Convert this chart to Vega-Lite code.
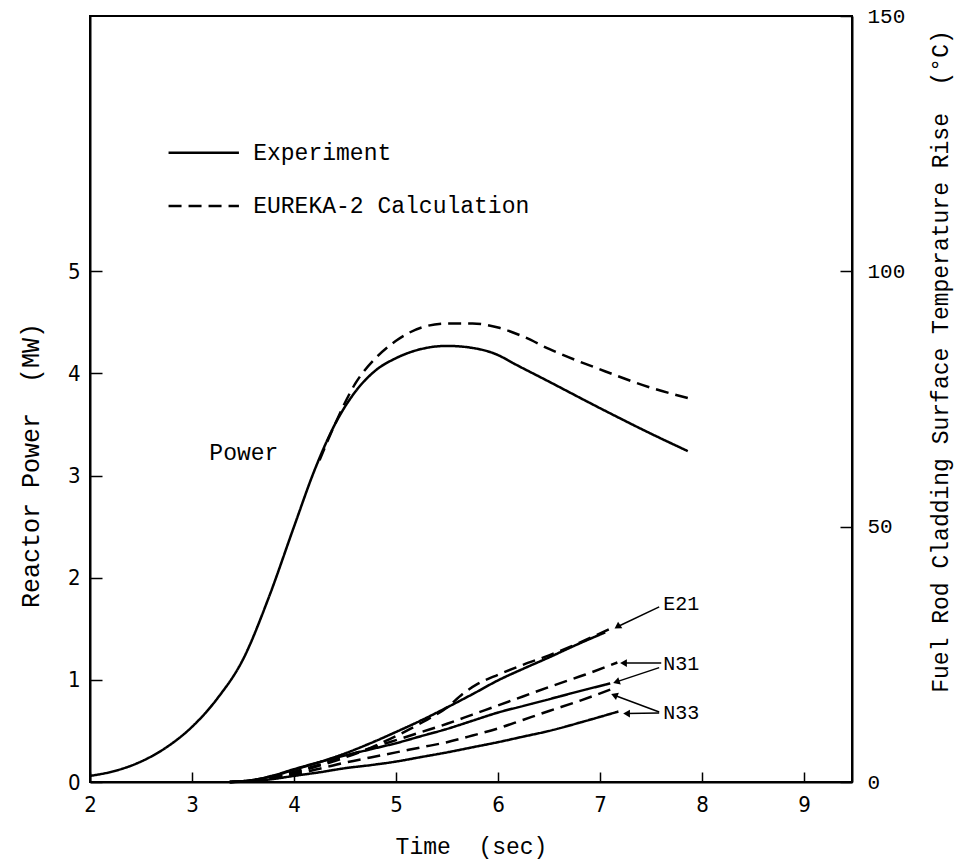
{
  "$schema": "https://vega.github.io/schema/vega-lite/v6.json",
  "width": 762,
  "height": 766,
  "autosize": {"type": "none"},
  "padding": {"left": 90, "top": 16, "right": 120, "bottom": 81},
  "background": "white",
  "config": {
    "view": {"stroke": "black", "strokeWidth": 2},
    "axis": {
      "grid": false, "domainColor": "black", "domainWidth": 2,
      "tickColor": "black", "tickWidth": 1.5, "labelColor": "black",
      "titleColor": "black", "titleFontWeight": "normal",
      "labelFlush": false, "labelOverlap": false, "labelBound": false
    }
  },
  "datasets": {
    "power": [
      {"series": "P-exp", "kind": "Experiment", "time": 2.0, "mw": 0.06},
      {"series": "P-exp", "kind": "Experiment", "time": 2.25, "mw": 0.11},
      {"series": "P-exp", "kind": "Experiment", "time": 2.5, "mw": 0.2},
      {"series": "P-exp", "kind": "Experiment", "time": 2.75, "mw": 0.34},
      {"series": "P-exp", "kind": "Experiment", "time": 3.0, "mw": 0.54},
      {"series": "P-exp", "kind": "Experiment", "time": 3.25, "mw": 0.82},
      {"series": "P-exp", "kind": "Experiment", "time": 3.5, "mw": 1.2},
      {"series": "P-exp", "kind": "Experiment", "time": 3.75, "mw": 1.8},
      {"series": "P-exp", "kind": "Experiment", "time": 4.0, "mw": 2.5},
      {"series": "P-exp", "kind": "Experiment", "time": 4.2, "mw": 3.05},
      {"series": "P-exp", "kind": "Experiment", "time": 4.4, "mw": 3.5},
      {"series": "P-exp", "kind": "Experiment", "time": 4.6, "mw": 3.82},
      {"series": "P-exp", "kind": "Experiment", "time": 4.8, "mw": 4.03},
      {"series": "P-exp", "kind": "Experiment", "time": 5.0, "mw": 4.15},
      {"series": "P-exp", "kind": "Experiment", "time": 5.25, "mw": 4.24},
      {"series": "P-exp", "kind": "Experiment", "time": 5.5, "mw": 4.27},
      {"series": "P-exp", "kind": "Experiment", "time": 5.75, "mw": 4.25},
      {"series": "P-exp", "kind": "Experiment", "time": 6.0, "mw": 4.18},
      {"series": "P-exp", "kind": "Experiment", "time": 6.15, "mw": 4.1},
      {"series": "P-exp", "kind": "Experiment", "time": 6.5, "mw": 3.92},
      {"series": "P-exp", "kind": "Experiment", "time": 7.0, "mw": 3.66},
      {"series": "P-exp", "kind": "Experiment", "time": 7.5, "mw": 3.41},
      {"series": "P-exp", "kind": "Experiment", "time": 7.86, "mw": 3.24},
      {"series": "P-calc", "kind": "Calculation", "time": 4.25, "mw": 3.15},
      {"series": "P-calc", "kind": "Calculation", "time": 4.4, "mw": 3.5},
      {"series": "P-calc", "kind": "Calculation", "time": 4.6, "mw": 3.9},
      {"series": "P-calc", "kind": "Calculation", "time": 4.8, "mw": 4.15},
      {"series": "P-calc", "kind": "Calculation", "time": 5.0, "mw": 4.32},
      {"series": "P-calc", "kind": "Calculation", "time": 5.25, "mw": 4.45},
      {"series": "P-calc", "kind": "Calculation", "time": 5.5, "mw": 4.49},
      {"series": "P-calc", "kind": "Calculation", "time": 5.75, "mw": 4.49},
      {"series": "P-calc", "kind": "Calculation", "time": 6.0, "mw": 4.45},
      {"series": "P-calc", "kind": "Calculation", "time": 6.25, "mw": 4.36},
      {"series": "P-calc", "kind": "Calculation", "time": 6.5, "mw": 4.24},
      {"series": "P-calc", "kind": "Calculation", "time": 7.0, "mw": 4.04},
      {"series": "P-calc", "kind": "Calculation", "time": 7.5, "mw": 3.86},
      {"series": "P-calc", "kind": "Calculation", "time": 7.86, "mw": 3.76},
      {"series": "legend-exp", "kind": "Experiment", "time": 2.77, "mw": 6.16},
      {"series": "legend-exp", "kind": "Experiment", "time": 3.46, "mw": 6.16},
      {"series": "legend-calc", "kind": "Calculation", "time": 2.77, "mw": 5.64},
      {"series": "legend-calc", "kind": "Calculation", "time": 3.46, "mw": 5.64}
    ],
    "ptext": [
      {"time": 3.6, "mw": 6.16, "label": "Experiment"},
      {"time": 3.6, "mw": 5.64, "label": "EUREKA-2 Calculation"},
      {"time": 3.17, "mw": 3.22, "label": "Power"}
    ],
    "temp": [
      {"series": "E21", "kind": "Experiment", "time": 3.37, "temp": 0},
      {"series": "E21", "kind": "Experiment", "time": 3.6, "temp": 0.4},
      {"series": "E21", "kind": "Experiment", "time": 3.8, "temp": 1.2},
      {"series": "E21", "kind": "Experiment", "time": 4.0, "temp": 2.4},
      {"series": "E21", "kind": "Experiment", "time": 4.25, "temp": 3.9},
      {"series": "E21", "kind": "Experiment", "time": 4.5, "temp": 5.6},
      {"series": "E21", "kind": "Experiment", "time": 4.75, "temp": 7.6},
      {"series": "E21", "kind": "Experiment", "time": 5.0, "temp": 9.8},
      {"series": "E21", "kind": "Experiment", "time": 5.25, "temp": 12.1},
      {"series": "E21", "kind": "Experiment", "time": 5.5, "temp": 14.6},
      {"series": "E21", "kind": "Experiment", "time": 5.75, "temp": 17.2},
      {"series": "E21", "kind": "Experiment", "time": 6.0, "temp": 19.9},
      {"series": "E21", "kind": "Experiment", "time": 6.25, "temp": 22.2},
      {"series": "E21", "kind": "Experiment", "time": 6.5, "temp": 24.4},
      {"series": "E21", "kind": "Experiment", "time": 6.75, "temp": 26.7},
      {"series": "E21", "kind": "Experiment", "time": 7.05, "temp": 29.3},
      {"series": "E21c", "kind": "Calculation", "time": 3.37, "temp": 0},
      {"series": "E21c", "kind": "Calculation", "time": 3.6, "temp": 0.3},
      {"series": "E21c", "kind": "Calculation", "time": 3.8, "temp": 0.9},
      {"series": "E21c", "kind": "Calculation", "time": 4.0, "temp": 1.8},
      {"series": "E21c", "kind": "Calculation", "time": 4.25, "temp": 3.2},
      {"series": "E21c", "kind": "Calculation", "time": 4.5, "temp": 4.8},
      {"series": "E21c", "kind": "Calculation", "time": 4.75, "temp": 6.7},
      {"series": "E21c", "kind": "Calculation", "time": 5.0, "temp": 9.0},
      {"series": "E21c", "kind": "Calculation", "time": 5.25, "temp": 11.6},
      {"series": "E21c", "kind": "Calculation", "time": 5.5, "temp": 14.6},
      {"series": "E21c", "kind": "Calculation", "time": 5.65, "temp": 17.2},
      {"series": "E21c", "kind": "Calculation", "time": 5.8, "temp": 19.2},
      {"series": "E21c", "kind": "Calculation", "time": 6.0, "temp": 21.0},
      {"series": "E21c", "kind": "Calculation", "time": 6.25, "temp": 23.0},
      {"series": "E21c", "kind": "Calculation", "time": 6.5, "temp": 24.8},
      {"series": "E21c", "kind": "Calculation", "time": 6.8, "temp": 27.3},
      {"series": "E21c", "kind": "Calculation", "time": 7.12, "temp": 30.2},
      {"series": "N31", "kind": "Experiment", "time": 3.37, "temp": 0},
      {"series": "N31", "kind": "Experiment", "time": 3.6, "temp": 0.4},
      {"series": "N31", "kind": "Experiment", "time": 3.8, "temp": 1.3},
      {"series": "N31", "kind": "Experiment", "time": 4.0, "temp": 2.5},
      {"series": "N31", "kind": "Experiment", "time": 4.25, "temp": 3.9},
      {"series": "N31", "kind": "Experiment", "time": 4.5, "temp": 5.2},
      {"series": "N31", "kind": "Experiment", "time": 4.75, "temp": 6.4},
      {"series": "N31", "kind": "Experiment", "time": 5.0, "temp": 7.6},
      {"series": "N31", "kind": "Experiment", "time": 5.25, "temp": 9.0},
      {"series": "N31", "kind": "Experiment", "time": 5.5, "temp": 10.4},
      {"series": "N31", "kind": "Experiment", "time": 5.75, "temp": 12.0},
      {"series": "N31", "kind": "Experiment", "time": 6.0, "temp": 13.6},
      {"series": "N31", "kind": "Experiment", "time": 6.25, "temp": 14.9},
      {"series": "N31", "kind": "Experiment", "time": 6.5, "temp": 16.2},
      {"series": "N31", "kind": "Experiment", "time": 6.8, "temp": 17.8},
      {"series": "N31", "kind": "Experiment", "time": 7.1, "temp": 19.3},
      {"series": "N31c", "kind": "Calculation", "time": 3.37, "temp": 0},
      {"series": "N31c", "kind": "Calculation", "time": 3.6, "temp": 0.3},
      {"series": "N31c", "kind": "Calculation", "time": 3.8, "temp": 1.0},
      {"series": "N31c", "kind": "Calculation", "time": 4.0, "temp": 2.0},
      {"series": "N31c", "kind": "Calculation", "time": 4.25, "temp": 3.4},
      {"series": "N31c", "kind": "Calculation", "time": 4.5, "temp": 5.0},
      {"series": "N31c", "kind": "Calculation", "time": 4.75, "temp": 6.6},
      {"series": "N31c", "kind": "Calculation", "time": 5.0, "temp": 8.2},
      {"series": "N31c", "kind": "Calculation", "time": 5.25, "temp": 9.8},
      {"series": "N31c", "kind": "Calculation", "time": 5.5, "temp": 11.4},
      {"series": "N31c", "kind": "Calculation", "time": 5.75, "temp": 13.2},
      {"series": "N31c", "kind": "Calculation", "time": 6.0, "temp": 15.0},
      {"series": "N31c", "kind": "Calculation", "time": 6.25, "temp": 16.8},
      {"series": "N31c", "kind": "Calculation", "time": 6.5, "temp": 18.6},
      {"series": "N31c", "kind": "Calculation", "time": 6.85, "temp": 21.0},
      {"series": "N31c", "kind": "Calculation", "time": 7.17, "temp": 23.4},
      {"series": "N33c", "kind": "Calculation", "time": 3.37, "temp": 0},
      {"series": "N33c", "kind": "Calculation", "time": 3.6, "temp": 0.25},
      {"series": "N33c", "kind": "Calculation", "time": 3.8, "temp": 0.8},
      {"series": "N33c", "kind": "Calculation", "time": 4.0, "temp": 1.5},
      {"series": "N33c", "kind": "Calculation", "time": 4.25, "temp": 2.6},
      {"series": "N33c", "kind": "Calculation", "time": 4.5, "temp": 3.8},
      {"series": "N33c", "kind": "Calculation", "time": 4.75, "temp": 4.8},
      {"series": "N33c", "kind": "Calculation", "time": 5.0, "temp": 5.8},
      {"series": "N33c", "kind": "Calculation", "time": 5.25, "temp": 6.8},
      {"series": "N33c", "kind": "Calculation", "time": 5.5, "temp": 7.8},
      {"series": "N33c", "kind": "Calculation", "time": 5.75, "temp": 9.1},
      {"series": "N33c", "kind": "Calculation", "time": 6.0, "temp": 10.5},
      {"series": "N33c", "kind": "Calculation", "time": 6.25, "temp": 12.2},
      {"series": "N33c", "kind": "Calculation", "time": 6.5, "temp": 13.9},
      {"series": "N33c", "kind": "Calculation", "time": 6.8, "temp": 15.9},
      {"series": "N33c", "kind": "Calculation", "time": 7.1, "temp": 18.1},
      {"series": "N33", "kind": "Experiment", "time": 3.37, "temp": 0},
      {"series": "N33", "kind": "Experiment", "time": 3.6, "temp": 0.2},
      {"series": "N33", "kind": "Experiment", "time": 3.8, "temp": 0.6},
      {"series": "N33", "kind": "Experiment", "time": 4.0, "temp": 1.2},
      {"series": "N33", "kind": "Experiment", "time": 4.25, "temp": 1.9},
      {"series": "N33", "kind": "Experiment", "time": 4.5, "temp": 2.7},
      {"series": "N33", "kind": "Experiment", "time": 4.75, "temp": 3.3},
      {"series": "N33", "kind": "Experiment", "time": 5.0, "temp": 4.0},
      {"series": "N33", "kind": "Experiment", "time": 5.25, "temp": 4.9},
      {"series": "N33", "kind": "Experiment", "time": 5.5, "temp": 5.8},
      {"series": "N33", "kind": "Experiment", "time": 5.75, "temp": 6.8},
      {"series": "N33", "kind": "Experiment", "time": 6.0, "temp": 7.8},
      {"series": "N33", "kind": "Experiment", "time": 6.25, "temp": 8.9},
      {"series": "N33", "kind": "Experiment", "time": 6.5, "temp": 10.0},
      {"series": "N33", "kind": "Experiment", "time": 6.85, "temp": 11.9},
      {"series": "N33", "kind": "Experiment", "time": 7.18, "temp": 13.8}
    ],
    "ttext": [
      {"time": 7.62, "temp": 34.8, "label": "E21"},
      {"time": 7.62, "temp": 23.2, "label": "N31"},
      {"time": 7.62, "temp": 13.5, "label": "N33"}
    ],
    "arrows": [
      {"id": "E21", "time": 7.58, "temp": 34.3, "time2": 7.17, "temp2": 30.4},
      {"id": "N31a", "time": 7.6, "temp": 23.3, "time2": 7.23, "temp2": 23.3},
      {"id": "N31b", "time": 7.58, "temp": 22.4, "time2": 7.16, "temp2": 19.6},
      {"id": "N33a", "time": 7.58, "temp": 13.7, "time2": 7.14, "temp2": 17.0},
      {"id": "N33b", "time": 7.58, "temp": 13.5, "time2": 7.26, "temp2": 13.4}
    ],
    "heads": [
      {"id": "E21", "time": 7.17, "temp": 30.4},
      {"id": "N31a", "time": 7.23, "temp": 23.3},
      {"id": "N31b", "time": 7.16, "temp": 19.6},
      {"id": "N33a", "time": 7.14, "temp": 17.0},
      {"id": "N33b", "time": 7.26, "temp": 13.4}
    ]
  },
  "encoding": {
    "x": {
      "field": "time", "type": "quantitative",
      "scale": {"domain": [2, 9.47], "nice": false, "zero": false},
      "axis": {
        "values": [2, 3, 4, 5, 6, 7, 8, 9], "tickSize": -10, "labelPadding": 22,
        "labelFont": "Liberation Sans Narrow, DejaVu Sans Condensed, Liberation Sans", "labelFontSize": 22,
        "title": "Time\u00a0\u00a0(sec)", "titleFont": "Liberation Mono", "titleFontSize": 23,
        "titleY": 64, "titleBaseline": "middle"
      }
    }
  },
  "layer": [
    {
      "encoding": {
        "y": {
          "field": "mw", "type": "quantitative",
          "scale": {"domain": [0, 7.5], "nice": false, "zero": false},
          "axis": {
            "orient": "left", "values": [0, 1, 2, 3, 4, 5], "tickSize": -12, "labelPadding": 22,
            "labelFont": "Liberation Sans Narrow, DejaVu Sans Condensed, Liberation Sans", "labelFontSize": 22,
            "title": "Reactor Power\u00a0\u00a0(MW)", "titleFont": "Liberation Mono", "titleFontSize": 25,
            "titleAngle": 270, "titleX": -60, "titleY": 449, "titleAlign": "center", "titleBaseline": "middle"
          }
        }
      },
      "layer": [
        {
          "data": {"name": "power"},
          "mark": {"type": "line", "color": "black", "strokeWidth": 2.5, "interpolate": "monotone"},
          "encoding": {
            "detail": {"field": "series", "type": "nominal"},
            "strokeDash": {"field": "kind", "type": "nominal", "scale": {"domain": ["Experiment", "Calculation"], "range": [[1, 0], [13, 7]]}, "legend": null}
          }
        },
        {
          "data": {"name": "ptext"},
          "mark": {"type": "text", "align": "left", "baseline": "middle", "font": "Liberation Mono", "fontSize": 23, "color": "black"},
          "encoding": {"text": {"field": "label", "type": "nominal"}}
        }
      ]
    },
    {
      "encoding": {
        "y": {
          "field": "temp", "type": "quantitative",
          "scale": {"domain": [0, 150], "nice": false, "zero": false},
          "axis": {
            "orient": "right", "values": [0, 50, 100, 150], "tickSize": -12, "labelPadding": 27,
            "labelFont": "Liberation Mono", "labelFontSize": 21,
            "title": "Fuel Rod Cladding Surface Temperature Rise\u00a0\u00a0(°C)", "titleFont": "Liberation Mono", "titleFontSize": 23,
            "titleAngle": 270, "titleX": 88, "titleY": 345, "titleAlign": "center", "titleBaseline": "middle"
          }
        }
      },
      "layer": [
        {
          "data": {"name": "temp"},
          "mark": {"type": "line", "color": "black", "strokeWidth": 2.5, "interpolate": "monotone"},
          "encoding": {
            "detail": {"field": "series", "type": "nominal"},
            "strokeDash": {"field": "kind", "type": "nominal", "scale": {"domain": ["Experiment", "Calculation"], "range": [[1, 0], [13, 7]]}, "legend": null}
          }
        },
        {
          "data": {"name": "ttext"},
          "mark": {"type": "text", "align": "left", "baseline": "middle", "font": "Liberation Mono", "fontSize": 20, "color": "black"},
          "encoding": {"text": {"field": "label", "type": "nominal"}}
        },
        {
          "data": {"name": "arrows"},
          "mark": {"type": "rule", "color": "black", "strokeWidth": 1.5},
          "encoding": {"x2": {"field": "time2"}, "y2": {"field": "temp2"}}
        },
        {
          "data": {"name": "heads"},
          "transform": [{"filter": "datum.id == 'N31a' || datum.id == 'N33b'"}],
          "mark": {"type": "point", "shape": "triangle-left", "filled": true, "color": "black", "size": 60, "angle": 0, "opacity": 1},
          "encoding": {}
        },
        {
          "data": {"name": "heads"},
          "transform": [{"filter": "datum.id == 'E21'"}],
          "mark": {"type": "point", "shape": "triangle-left", "filled": true, "color": "black", "size": 60, "angle": -33, "opacity": 1},
          "encoding": {}
        },
        {
          "data": {"name": "heads"},
          "transform": [{"filter": "datum.id == 'N31b'"}],
          "mark": {"type": "point", "shape": "triangle-left", "filled": true, "color": "black", "size": 60, "angle": -19, "opacity": 1},
          "encoding": {}
        },
        {
          "data": {"name": "heads"},
          "transform": [{"filter": "datum.id == 'N33a'"}],
          "mark": {"type": "point", "shape": "triangle-left", "filled": true, "color": "black", "size": 60, "angle": 22, "opacity": 1},
          "encoding": {}
        }
      ]
    }
  ],
  "resolve": {"scale": {"y": "independent", "strokeDash": "shared"}, "axis": {"y": "independent"}}
}
